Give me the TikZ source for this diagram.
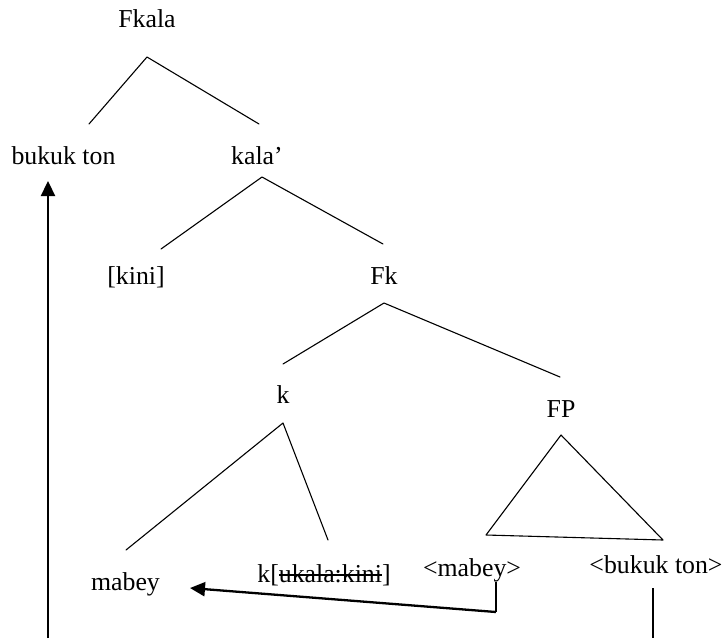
\documentclass[tikz,border=0pt]{standalone}
\usepackage{fontspec}
\setmainfont{Liberation Serif}
\usetikzlibrary{arrows.meta}
\newcommand\strikeout[1]{\setbox0\hbox{#1}\rlap{\rule[0.24em]{\wd0}{0.07em}}\box0}
\begin{document}
\begin{tikzpicture}[x=1pt,y=-1pt,
  lbl/.style={anchor=base,inner sep=0pt,font=\fontsize{25.8}{30}\selectfont},
  branch/.style={line width=1.1pt,line cap=round,line join=round},
  mover/.style={line width=2.3pt,-{Triangle[length=15pt,width=14pt]}},
  stem/.style={line width=1.4pt}]
\useasboundingbox (0,0) rectangle (725,638);
% labels
\node[lbl] (fkala) at (147,27) {Fkala};
\node[lbl] (buk) at (63.5,164) {bukuk ton};
\node[lbl] (kala) at (257,164) {kala’};
\node[lbl] (kini) at (136,284) {[kini]};
\node[lbl] (fk) at (384,284) {Fk};
\node[lbl] (k) at (283,403) {k};
\node[lbl] (fp) at (561,417) {FP};
\node[lbl] (mab) at (125.5,590) {mabey};
\node[lbl] (kk) at (324,582) {k[\strikeout{ukala:kini}]};
\node[lbl] (mab2) at (472,576) {<mabey>};
\node[lbl] (buk2) at (656,573) {<bukuk ton>};
% branch points
\coordinate (fkalaA) at (147,57);
\coordinate (fkalaL) at (89,124);
\coordinate (fkalaR) at (259,124);
\coordinate (kalaA) at (262,177);
\coordinate (kalaL) at (161,249);
\coordinate (kalaR) at (383,244);
\coordinate (fkA) at (384,303);
\coordinate (fkL) at (283,364);
\coordinate (fkR) at (560,377);
\coordinate (kA) at (283,423);
\coordinate (kL) at (126,550);
\coordinate (kR) at (328,540);
\coordinate (fpA) at (561,435);
\coordinate (fpL) at (486,535);
\coordinate (fpR) at (663,540);
% movement points
\coordinate (bukFoot) at (48,638);
\coordinate (bukTip) at (48,181);
\coordinate (mabTop) at (496,582);
\coordinate (mabCorner) at (496,612);
\coordinate (mabTip) at (190,588);
\coordinate (buk2Top) at (653,588);
\coordinate (buk2Foot) at (653,638);
% tree
\draw[branch] (fkalaL) -- (fkalaA) -- (fkalaR);
\draw[branch] (kalaL) -- (kalaA) -- (kalaR);
\draw[branch] (fkL) -- (fkA) -- (fkR);
\draw[branch] (kL) -- (kA) -- (kR);
\draw[branch] (fpA) -- (fpL) -- (fpR) -- cycle;
% movement
\draw[mover] (bukFoot) -- (bukTip);
\draw[stem] (mabTop) -- (mabCorner);
\draw[mover] (mabCorner) -- (mabTip);
\draw[stem] (buk2Top) -- (buk2Foot);
\end{tikzpicture}
\end{document}
